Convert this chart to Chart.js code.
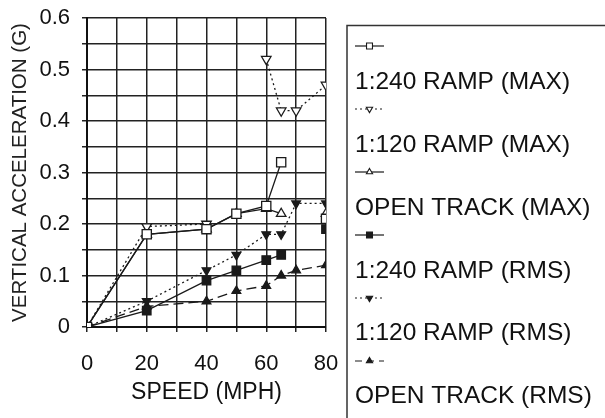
<!DOCTYPE html>
<html>
<head>
<meta charset="utf-8">
<script src="https://cdn.jsdelivr.net/npm/chart.js@4"></script>
<style>
  html, body { margin: 0; padding: 0; background: #fff; }
  #wrap { width: 605px; height: 418px; position: relative; }
</style>
</head>
<body>
<div id="wrap"><canvas id="c" width="605" height="418"></canvas></div>
<script>
// ---- data ----
const speedMph     = [0, 20, 40, 50, 60, 65, 70, 80];
const ramp240Max   = [0, 0.18, 0.19, 0.22, 0.235, 0.32, null, 0.21];
const ramp120Max   = [0, 0.195, 0.2, null, 0.52, 0.42, 0.42, 0.47];
const openTrackMax = [0, 0.18, 0.19, 0.22, 0.23, 0.22, null, 0.22];
const ramp240Rms   = [0, 0.032, 0.09, 0.11, 0.13, 0.14, null, 0.19];
const ramp120Rms   = [0, 0.05, 0.11, 0.14, 0.18, 0.18, 0.24, 0.24];
const openTrackRms = [0, 0.04, 0.05, 0.07, 0.08, 0.10, 0.11, 0.12];
const seriesLabels = ['1:240 RAMP (MAX)', '1:120 RAMP (MAX)', 'OPEN TRACK (MAX)',
                      '1:240 RAMP (RMS)', '1:120 RAMP (RMS)', 'OPEN TRACK (RMS)'];
const xTickLabels = [0, 20, 40, 60, 80];
const yTickLabels = [0, 0.1, 0.2, 0.3, 0.4, 0.5, 0.6];

const FONT = "'Liberation Sans', Arial, sans-serif";
const INK = '#1a1a1a';

function pts(arr) { return speedMph.map((x, i) => ({ x: x, y: arr[i] })); }

const styles = [
  { data: ramp240Max,   pointStyle: 'rect',     rot: 0,   fill: '#fff', dash: [],      r: 6.5, lr: 4.2 },
  { data: ramp120Max,   pointStyle: 'triangle', rot: 180, fill: '#fff', dash: [2, 3],  r: 5.5, lr: 3.6 },
  { data: openTrackMax, pointStyle: 'triangle', rot: 0,   fill: '#fff', dash: [],      r: 5.5, lr: 3.6 },
  { data: ramp240Rms,   pointStyle: 'rect',     rot: 0,   fill: INK,    dash: [],      r: 6,   lr: 4.2 },
  { data: ramp120Rms,   pointStyle: 'triangle', rot: 180, fill: INK,    dash: [2, 3],  r: 5,   lr: 3.6 },
  { data: openTrackRms, pointStyle: 'triangle', rot: 0,   fill: INK,    dash: [10, 5], r: 5,   lr: 3.6 }
];

const datasets = styles.map((s, i) => ({
  label: seriesLabels[i],
  data: pts(s.data),
  borderColor: INK,
  borderWidth: 1.3,
  borderDash: s.dash,
  pointStyle: s.pointStyle,
  pointRotation: s.rot,
  pointRadius: s.r,
  pointBorderWidth: 1.3,
  pointBorderColor: INK,
  pointBackgroundColor: s.fill,
  fill: false,
  tension: 0,
  spanGaps: false,
  _legendRadius: s.lr
}));

const legendPlugin = {
  id: 'customLegend',
  afterDraw(chart) {
    const ctx = chart.ctx;
    ctx.save();
    ctx.strokeStyle = '#333';
    ctx.lineWidth = 1.5;
    ctx.beginPath();
    ctx.moveTo(347, 430);
    ctx.lineTo(347, 25.5);
    ctx.lineTo(610, 25.5);
    ctx.stroke();
    chart.data.datasets.forEach((ds, i) => {
      const sy = 46 + 63 * i;
      const ly = 82.5 + 62.8 * i;
      ctx.save();
      ctx.strokeStyle = INK;
      ctx.lineWidth = 1.2;
      ctx.setLineDash(ds.borderDash.length ? [Math.min(ds.borderDash[0], 7), ds.borderDash[1]] : []);
      ctx.beginPath();
      ctx.moveTo(355, sy);
      ctx.lineTo(384, sy);
      ctx.stroke();
      ctx.setLineDash([]);
      ctx.fillStyle = ds.pointBackgroundColor;
      ctx.strokeStyle = INK;
      ctx.lineWidth = 1.1;
      Chart.helpers.drawPoint(ctx, {
        pointStyle: ds.pointStyle, radius: ds._legendRadius,
        rotation: ds.pointRotation, borderWidth: 1.1
      }, 369.5, sy);
      ctx.restore();
      ctx.fillStyle = '#111';
      ctx.font = '24.5px ' + FONT;
      ctx.textBaseline = 'middle';
      ctx.textAlign = 'left';
      ctx.fillText(ds.label, 355, ly);
    });
    ctx.restore();
  }
};

new Chart(document.getElementById('c'), {
  type: 'line',
  data: { datasets: datasets },
  options: {
    responsive: false,
    animation: false,
    events: [],
    layout: { padding: { top: 18, right: 279, bottom: 0, left: 0 } },
    plugins: { legend: { display: false }, tooltip: { enabled: false }, title: { display: false } },
    scales: {
      x: {
        type: 'linear',
        min: 0, max: 80,
        ticks: {
          stepSize: 10, autoSkip: false, maxRotation: 0,
          color: '#111', font: { size: 22, family: FONT }, padding: 19,
          callback: v => (xTickLabels.includes(v) ? String(v) : '')
        },
        grid: { color: '#222', lineWidth: 1.5, tickLength: 5 },
        border: { color: '#111', width: 2 },
        title: { display: true, text: 'SPEED (MPH)', color: '#111',
                 font: { size: 23, family: FONT }, padding: { top: 0, bottom: 12 } },
        afterFit: s => { s.height = 91; }
      },
      y: {
        type: 'linear',
        min: 0, max: 0.6,
        ticks: {
          stepSize: 0.05, autoSkip: false,
          color: '#111', font: { size: 22, family: FONT }, padding: 12,
          callback: v => {
            const r = Math.round(v * 10) / 10;
            return (Math.abs(v - r) < 1e-6 && yTickLabels.includes(r)) ? String(r) : '';
          }
        },
        grid: { color: '#222', lineWidth: 1.5, tickLength: 5 },
        border: { color: '#111', width: 2 },
        title: { display: true, text: 'VERTICAL ACCELERATION (G)', color: '#222',
                 font: { size: 20.5, family: FONT }, padding: { top: 8.5, bottom: 0 } },
        afterFit: s => { s.width = 87; s.paddingTop = 0; s.paddingBottom = 0; }
      }
    }
  },
  plugins: [legendPlugin]
});
</script>
</body>
</html>
